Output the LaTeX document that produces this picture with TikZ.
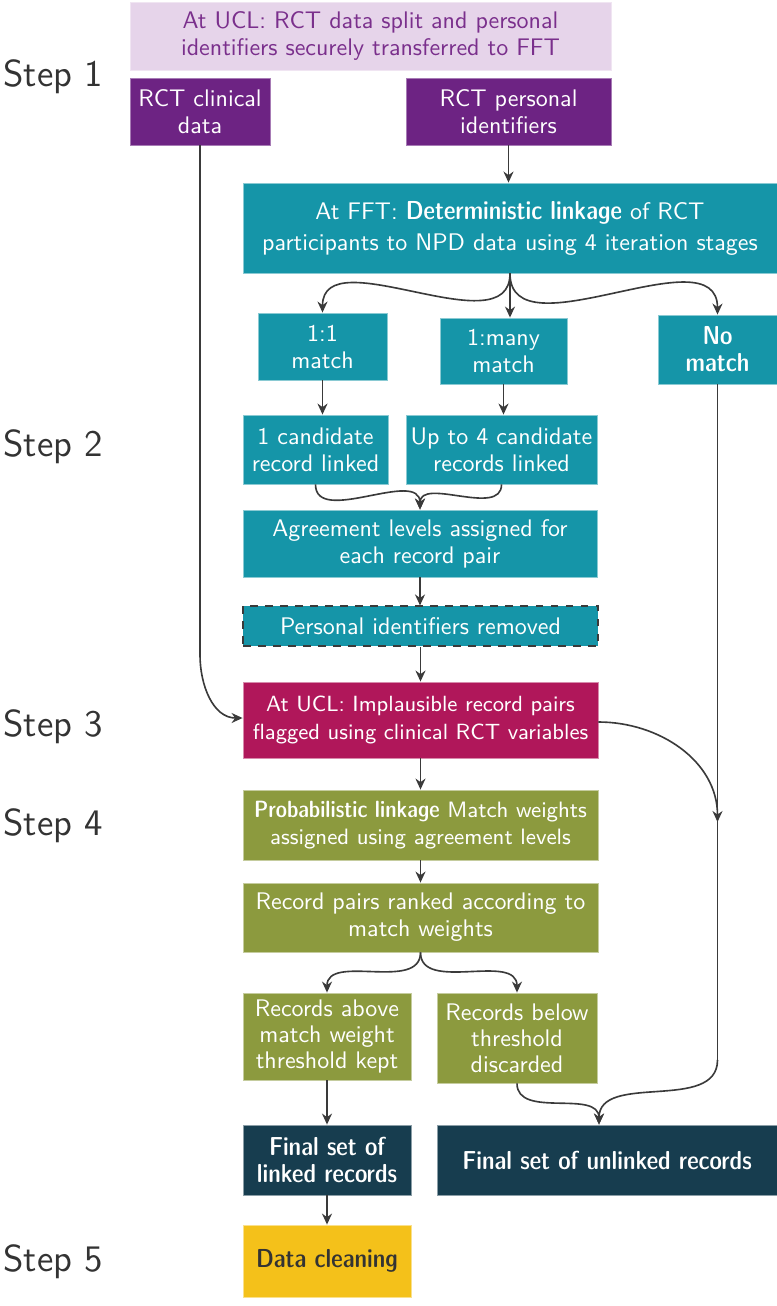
\documentclass[tikz,border=0pt]{standalone}
\usetikzlibrary{arrows.meta}
\definecolor{lav}{HTML}{E6D4EA}
\definecolor{lavtext}{HTML}{7A2F8C}
\definecolor{purp}{HTML}{6D2383}
\definecolor{teal}{HTML}{1595A8}
\definecolor{mag}{HTML}{B0175A}
\definecolor{olive}{HTML}{8C9A3E}
\definecolor{navy}{HTML}{173D4F}
\definecolor{yel}{HTML}{F4C11A}
\definecolor{arr}{HTML}{3A3A3A}
\newcommand\pxu{0.4pt}
\newcommand\semib[2][10.4]{{\fontseries{sbc}\fontsize{#1}{12}\selectfont #2}}
\begin{document}
\begin{tikzpicture}[x=\pxu,y=-\pxu,
  font=\sffamily\fontsize{9.6}{10.8}\selectfont,
  box/.style={rectangle, inner sep=0pt, align=center, text=white, line width=0.35pt},
  lavbox/.style={box, fill=lav, draw=lav!60!white, text=lavtext},
  purpbox/.style={box, fill=purp, draw=purp!60!white},
  tealbox/.style={box, fill=teal, draw=teal!50!white},
  magbox/.style={box, fill=mag, draw=mag!50!white},
  olivebox/.style={box, fill=olive, draw=olive!50!white},
  navybox/.style={box, fill=navy, draw=navy!50!white},
  yelbox/.style={box, fill=yel, draw=yel!50!white, text=black!80},
  steplabel/.style={anchor=west, inner sep=0pt, text=black!80, font=\sffamily\fontsize{15}{17}\selectfont},
  conn/.style={draw=arr, line width=0.65pt, -{Stealth[length=4.4pt,width=4pt]}},
  line/.style={draw=arr, line width=0.65pt}
]
\useasboundingbox (0,0) rectangle (777,1306);

% step labels
\node[steplabel] (s1) at (3,77) {Step 1};
\node[steplabel] (s2) at (3,447) {Step 2};
\node[steplabel] (s3) at (3,727) {Step 3};
\node[steplabel] (s4) at (3,826) {Step 4};
\node[steplabel] (s5) at (3,1262) {Step 5};

% boxes
\node[lavbox, minimum width=481*\pxu, minimum height=68*\pxu] (top) at (370.5,36)
  {At UCL: RCT data split and personal\\identifiers securely transferred to FFT};
\node[purpbox, minimum width=140*\pxu, minimum height=67*\pxu] (clin) at (200,111.5)
  {RCT clinical\\data};
\node[purpbox, minimum width=205*\pxu, minimum height=67*\pxu] (pers) at (508.5,111.5)
  {RCT personal\\identifiers};
\node[tealbox, minimum width=534*\pxu, minimum height=90*\pxu, font=\sffamily\fontsize{9.6}{12.4}\selectfont] (fft) at (510,228)
  {At FFT: \semib{Deterministic linkage} of RCT\\participants to NPD data using 4 iteration stages};
\node[tealbox, minimum width=129*\pxu, minimum height=67*\pxu] (oo) at (322.5,346.5)
  {1:1\\match};
\node[tealbox, minimum width=127*\pxu, minimum height=66*\pxu] (many) at (503.5,351)
  {1:many\\match};
\node[tealbox, minimum width=119*\pxu, minimum height=69*\pxu] (nom) at (717.5,349.5)
  {\semib{No}\\\semib{match}};
\node[tealbox, minimum width=145*\pxu, minimum height=69*\pxu] (c1) at (315.5,449.5)
  {1 candidate\\record linked};
\node[tealbox, minimum width=191*\pxu, minimum height=69*\pxu] (c4) at (501.5,449.5)
  {Up to 4 candidate\\records linked};
\node[tealbox, minimum width=354*\pxu, minimum height=67*\pxu] (agree) at (420,543.5)
  {Agreement levels assigned for\\each record pair};
\node[tealbox, draw=arr, dashed, line width=0.45pt, minimum width=355*\pxu, minimum height=40*\pxu] (pid) at (420.5,626)
  {Personal identifiers removed};
\node[magbox, minimum width=355*\pxu, minimum height=76*\pxu, font=\sffamily\fontsize{8.8}{10.8}\selectfont] (ucl) at (420.5,720)
  {At UCL: Implausible record pairs\\flagged using clinical RCT variables};
\node[olivebox, minimum width=355*\pxu, minimum height=70*\pxu, font=\sffamily\fontsize{8.9}{10.8}\selectfont] (prob) at (420.5,825)
  {\semib[9.4]{Probabilistic linkage} Match weights\\assigned using agreement levels};
\node[olivebox, minimum width=355*\pxu, minimum height=69*\pxu] (rank) at (420.5,917.5)
  {Record pairs ranked according to\\match weights};
\node[olivebox, minimum width=168*\pxu, minimum height=87*\pxu, font=\sffamily\fontsize{9.6}{10.4}\selectfont] (above) at (327,1036.5)
  {Records above\\match weight\\threshold kept};
\node[olivebox, minimum width=160*\pxu, minimum height=90*\pxu, font=\sffamily\fontsize{9.6}{10.4}\selectfont] (below) at (517,1038)
  {Records below\\threshold\\discarded};
\node[navybox, minimum width=168*\pxu, minimum height=70*\pxu] (linked) at (327,1160)
  {\semib{Final set of}\\\semib{linked records}};
\node[navybox, minimum width=340*\pxu, minimum height=70*\pxu] (unlinked) at (607,1160)
  {\semib{Final set of unlinked records}};
\node[yelbox, minimum width=168*\pxu, minimum height=72*\pxu] (clean) at (327,1261)
  {\semib{Data cleaning}};

% junction coordinates
\coordinate (clinbend) at (clin.south |- 0,655);
\coordinate (nomjoin) at (nom.south |- 0,822);
\coordinate (nombend) at (nom.south |- 0,1060);
\coordinate (merge) at ([xshift=-8*\pxu]unlinked.north);

% connectors
\draw[conn] (pers.south) -- (pers.south |- fft.north);
\draw[conn] (fft.south) to[out=-90,in=90] (oo.north);
\draw[conn] (fft.south) -- (fft.south |- many.north);
\draw[conn] (fft.south) to[out=-90,in=90] (nom.north);
\draw[conn] (oo.south) -- (oo.south |- c1.north);
\draw[conn] (many.south) -- (many.south |- c4.north);
\draw[conn] (c1.south) to[out=-90,in=90] (agree.north);
\draw[conn] (c4.south) to[out=-90,in=90] (agree.north);
\draw[conn] (agree.south) -- (agree.south |- pid.north);
\draw[conn] (pid.south) -- (pid.south |- ucl.north);
\draw[line] (clin.south) -- (clinbend);
\draw[conn] (clinbend) to[out=-90,in=180] ([yshift=2*\pxu]ucl.west);
\draw[line] (nom.south) -- (nombend);
\draw[conn] (nombend) to[out=-90,in=90] (merge);
\draw[conn] ([yshift=-2*\pxu]ucl.east) to[out=0,in=90] (nomjoin);
\draw[conn] (ucl.south) -- (ucl.south |- prob.north);
\draw[conn] (prob.south) -- (prob.south |- rank.north);
\draw[conn] (rank.south) to[out=-90,in=90] (above.north);
\draw[conn] (rank.south) to[out=-90,in=90] (below.north);
\draw[conn] (above.south) -- (above.south |- linked.north);
\draw[conn] (below.south) to[out=-90,in=90] (merge);
\draw[conn] (linked.south) -- (linked.south |- clean.north);
\end{tikzpicture}
\end{document}
